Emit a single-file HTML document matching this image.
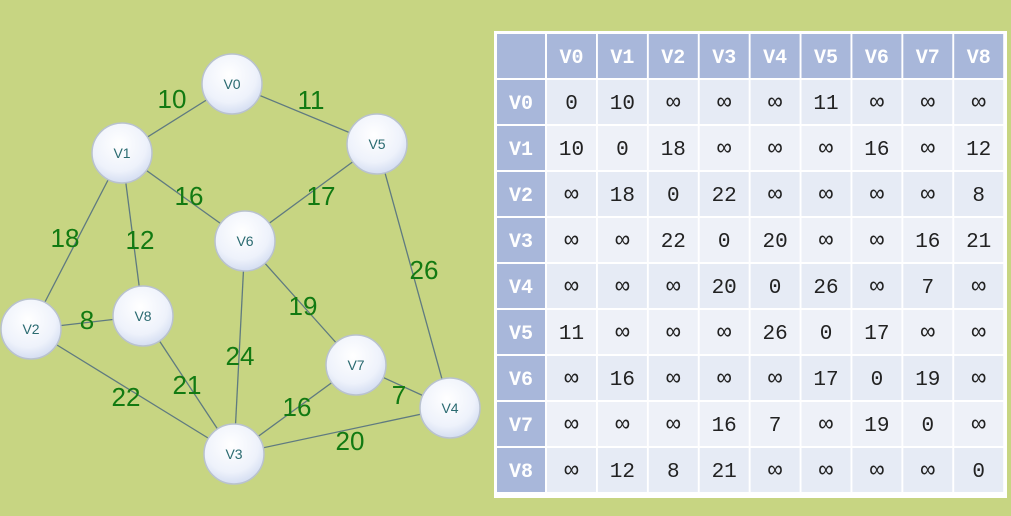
<!DOCTYPE html>
<html><head><meta charset="utf-8"><style>
html,body{margin:0;padding:0;width:1011px;height:516px;overflow:hidden;background:#c7d582}
svg{display:block}
.n{font-family:"Liberation Sans",sans-serif;font-size:14px;fill:#2a6a70}
.w{font-family:"Liberation Sans",sans-serif;font-size:26px;fill:#127a12}
.h{font-family:"Liberation Mono",monospace;font-size:20px;font-weight:bold;fill:#fff}
.c{font-family:"Liberation Mono",monospace;font-size:21px;fill:#222}
</style></head><body>
<svg width="1011" height="516" viewBox="0 0 1011 516">
<defs><radialGradient id="g" cx="45%" cy="35%" r="65%"><stop offset="0" stop-color="#ffffff"/><stop offset="0.7" stop-color="#eef2fb"/><stop offset="1" stop-color="#d5def2"/></radialGradient></defs>
<rect width="1011" height="516" fill="#c7d582"/>
<g stroke="#5f7a80" stroke-width="1.3">
<line x1="232" y1="84" x2="122" y2="153"/><line x1="232" y1="84" x2="377" y2="144"/>
<line x1="122" y1="153" x2="245" y2="241"/><line x1="122" y1="153" x2="31" y2="329"/>
<line x1="122" y1="153" x2="143" y2="316"/><line x1="377" y1="144" x2="245" y2="241"/>
<line x1="377" y1="144" x2="450" y2="408"/><line x1="245" y1="241" x2="356" y2="365"/>
<line x1="245" y1="241" x2="234" y2="454"/><line x1="31" y1="329" x2="143" y2="316"/>
<line x1="31" y1="329" x2="234" y2="454"/><line x1="143" y1="316" x2="234" y2="454"/>
<line x1="356" y1="365" x2="234" y2="454"/><line x1="356" y1="365" x2="450" y2="408"/>
<line x1="234" y1="454" x2="450" y2="408"/>
</g>
<g stroke="#b9c2cf" stroke-width="1.5" fill="url(#g)">
<circle cx="232" cy="84" r="30"/><circle cx="122" cy="153" r="30"/><circle cx="377" cy="144" r="30"/>
<circle cx="245" cy="241" r="30"/><circle cx="31" cy="329" r="30"/><circle cx="143" cy="316" r="30"/>
<circle cx="356" cy="365" r="30"/><circle cx="450" cy="408" r="30"/><circle cx="234" cy="454" r="30"/>
</g>
<g class="n" text-anchor="middle">
<text x="232" y="89">V0</text><text x="122" y="158">V1</text><text x="377" y="149">V5</text>
<text x="245" y="246">V6</text><text x="31" y="334">V2</text><text x="143" y="321">V8</text>
<text x="356" y="370">V7</text><text x="450" y="413">V4</text><text x="234" y="459">V3</text>
</g>
<g class="w" text-anchor="middle">
<text x="172" y="108">10</text><text x="311" y="109">11</text><text x="189" y="205">16</text>
<text x="321" y="205">17</text><text x="65" y="247">18</text><text x="140" y="249">12</text>
<text x="424" y="279">26</text><text x="303" y="315">19</text><text x="87" y="329">8</text>
<text x="240" y="365">24</text><text x="187" y="394">21</text><text x="126" y="406">22</text>
<text x="297" y="416">16</text><text x="399" y="404">7</text><text x="350" y="450">20</text>
</g>
<rect x="494" y="31" width="513" height="467" fill="#fff"/>
<g id="t"></g>
</svg>
<script>
var m=[["0","10","∞","∞","∞","11","∞","∞","∞"],["10","0","18","∞","∞","∞","16","∞","12"],["∞","18","0","22","∞","∞","∞","∞","8"],["∞","∞","22","0","20","∞","∞","16","21"],["∞","∞","∞","20","0","26","∞","7","∞"],["11","∞","∞","∞","26","0","17","∞","∞"],["∞","16","∞","∞","∞","17","0","19","∞"],["∞","∞","∞","16","7","∞","19","0","∞"],["∞","12","8","21","∞","∞","∞","∞","0"]];
var s='';
function cx(j){return j<0?497:547+j*50.9}
function cw(j){return j<0?48:49}
function ry(i){return i<0?34:80+i*46}
function rh(i){return 44}
for(var i=-1;i<9;i++)for(var j=-1;j<9;j++){
 var hd=(i<0||j<0);
 var fill=hd?'#a8b7da':((i%2==0)?'#e6ebf5':'#eef1f8');
 s+='<rect x="'+cx(j)+'" y="'+ry(i)+'" width="'+cw(j)+'" height="'+rh(i)+'" fill="'+fill+'"/>';
 var t='';
 if(i<0&&j>=0)t='V'+j;else if(j<0&&i>=0)t='V'+i;else if(i>=0)t=m[i][j];
 if(t)s+='<text class="'+(hd?'h':'c')+'" text-anchor="middle" x="'+(cx(j)+cw(j)/2)+'" y="'+(ry(i)+rh(i)/2+7)+'"'+(t=='∞'?' style="font-size:24px"':'')+'>'+t+'</text>';
}
document.getElementById('t').innerHTML=s;
</script>
</body></html>
